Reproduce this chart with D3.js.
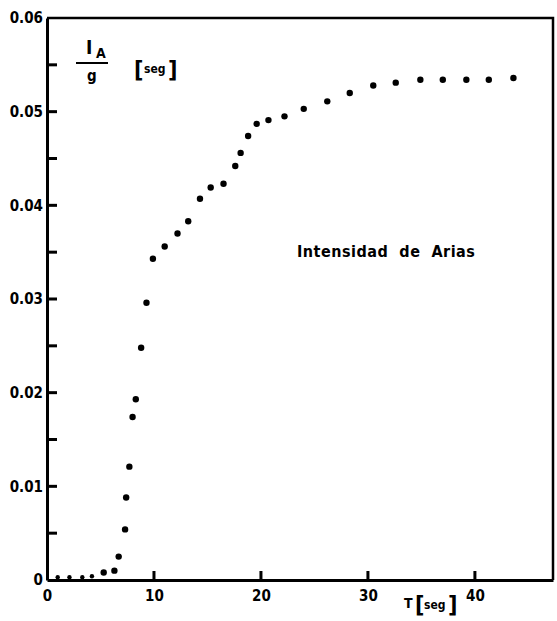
<!DOCTYPE html>
<html>
<head>
<meta charset="utf-8">
<script src="https://cdn.jsdelivr.net/npm/d3@7"></script>
<style>
	body { margin: 0; background: #fff; }
	svg { display: block; }
	.lbl { font-family: "Liberation Sans Narrow", "DejaVu Sans Condensed", "Liberation Sans", sans-serif; font-weight: bold; fill: #000; }
</style>
</head>
<body>
<div class="chart"></div>
<script>
// tiempo T [seg]
var tiempo = [1.0, 2.1, 3.3, 4.2, 5.3, 6.3, 6.7, 7.3, 7.4, 7.7, 8.0, 8.3, 8.8, 9.3, 9.9,
	11.0, 12.2, 13.2, 14.3, 15.3, 16.5, 17.6, 18.1, 18.8, 19.6, 20.7, 22.2, 24.0, 26.2,
	28.3, 30.5, 32.6, 34.9, 37.0, 39.2, 41.3, 43.6];
// Intensidad de Arias I_A / g [seg]
var intensidad = [0.0003, 0.0003, 0.0003, 0.0004, 0.0008, 0.0010, 0.0025, 0.0054, 0.0088, 0.0121, 0.0174, 0.0193, 0.0248, 0.0296, 0.0343,
	0.0356, 0.0370, 0.0383, 0.0407, 0.0419, 0.0423, 0.0442, 0.0456, 0.0474, 0.0487, 0.0491, 0.0495, 0.0503, 0.0511,
	0.0520, 0.0528, 0.0531, 0.0534, 0.0534, 0.0534, 0.0534, 0.0536];

var xTicks = [0, 10, 20, 30, 40];
var yTicks = [0, 0.01, 0.02, 0.03, 0.04, 0.05, 0.06];
var yTickLabels = ["0", "0.01", "0.02", "0.03", "0.04", "0.05", "0.06"];
var yMinorTicks = [0.005, 0.015, 0.025, 0.035, 0.045, 0.055];

drawChart();

function drawChart() {
	var w = 557, h = 621;
	var left = 47, right = 553, top = 18, bottom = 580;

	var svg = d3.select(".chart")
		.append("svg")
		.attr("width", w)
		.attr("height", h);

	var x = d3.scaleLinear().domain([0, 47.3]).range([left, right]);
	var y = d3.scaleLinear().domain([0, 0.06]).range([bottom, top]);

	// frame: top and right
	svg.append("path")
		.attr("d", "M" + x(0) + "," + y(0.06) + "H" + x(47.3) + "V" + y(0))
		.attr("fill", "none")
		.attr("stroke", "#000")
		.attr("stroke-width", 2.5);

	// y axis (labels only, ticks drawn inward below)
	var yAxis = svg.append("g")
		.attr("transform", "translate(" + left + ",0)")
		.call(d3.axisLeft(y)
			.tickValues(yTicks)
			.tickSize(0)
			.tickPadding(4)
			.tickFormat(function(d, i) { return yTickLabels[i]; }));
	yAxis.select(".domain").attr("stroke-width", 3);
	yAxis.selectAll(".tick text").attr("class", "lbl").style("font-size", "15px").attr("font-family", null);

	// inward ticks on y
	var yInner = yTicks.concat(yMinorTicks).filter(function(d) { return d > 0 && d < 0.06; });
	svg.append("g")
		.selectAll("rect")
		.data(yInner)
		.enter()
		.append("rect")
		.attr("x", left)
		.attr("y", function(d) { return y(d) - 1.5; })
		.attr("width", 10)
		.attr("height", 3)
		.attr("fill", "#000");

	// x axis
	var xAxis = svg.append("g")
		.attr("transform", "translate(0," + bottom + ")")
		.call(d3.axisBottom(x)
			.tickValues(xTicks)
			.tickSize(0)
			.tickPadding(10)
			.tickFormat(d3.format("d")));
	xAxis.select(".domain").attr("stroke-width", 3);
	xAxis.selectAll(".tick text").attr("class", "lbl").style("font-size", "15px").attr("font-family", null);

	// inward ticks on x
	svg.append("g")
		.selectAll("rect")
		.data(xTicks.filter(function(d) { return d > 0; }))
		.enter()
		.append("rect")
		.attr("x", function(d) { return x(d) - 1.5; })
		.attr("y", bottom - 9)
		.attr("width", 3)
		.attr("height", 9)
		.attr("fill", "#000");

	// points
	svg.append("g")
		.selectAll("circle")
		.data(tiempo)
		.enter()
		.append("circle")
		.attr("cx", function(d) { return x(d); })
		.attr("cy", function(d, i) { return y(intensidad[i]); })
		.attr("r", function(d, i) { return intensidad[i] < 0.0006 ? 2.2 : 3.2; })
		.attr("fill", "#000");

	// y label: I_A / g [seg]
	svg.append("text").attr("class", "lbl").attr("x", 86).attr("y", 54).style("font-size", "19px").text("I");
	svg.append("text").attr("class", "lbl").attr("x", 96).attr("y", 58).style("font-size", "14px").text("A");
	svg.append("line")
		.attr("x1", 76).attr("x2", 108).attr("y1", 63).attr("y2", 63)
		.attr("stroke", "#000").attr("stroke-width", 2);
	svg.append("text").attr("class", "lbl").attr("x", 87).attr("y", 81).style("font-size", "15px").text("g");
	svg.append("text").attr("class", "lbl").attr("x", 134).attr("y", 78).style("font-size", "23px").text("[");
	svg.append("text").attr("class", "lbl").attr("x", 144).attr("y", 73).style("font-size", "12px").text("seg");
	svg.append("text").attr("class", "lbl").attr("x", 168).attr("y", 78).style("font-size", "23px").text("]");

	// x label: T [seg]
	svg.append("text").attr("class", "lbl").attr("x", 404).attr("y", 608).style("font-size", "14px").text("T");
	svg.append("text").attr("class", "lbl").attr("x", 415).attr("y", 613).style("font-size", "23px").text("[");
	svg.append("text").attr("class", "lbl").attr("x", 424).attr("y", 609).style("font-size", "12px").text("seg");
	svg.append("text").attr("class", "lbl").attr("x", 448).attr("y", 613).style("font-size", "23px").text("]");

	// title
	svg.append("text")
		.attr("class", "lbl")
		.attr("x", 297)
		.attr("y", 257)
		.style("font-size", "16px")
		.style("letter-spacing", "0.5px")
		.attr("xml:space", "preserve")
		.text("Intensidad  de  Arias");
}
</script>
</body>
</html>
